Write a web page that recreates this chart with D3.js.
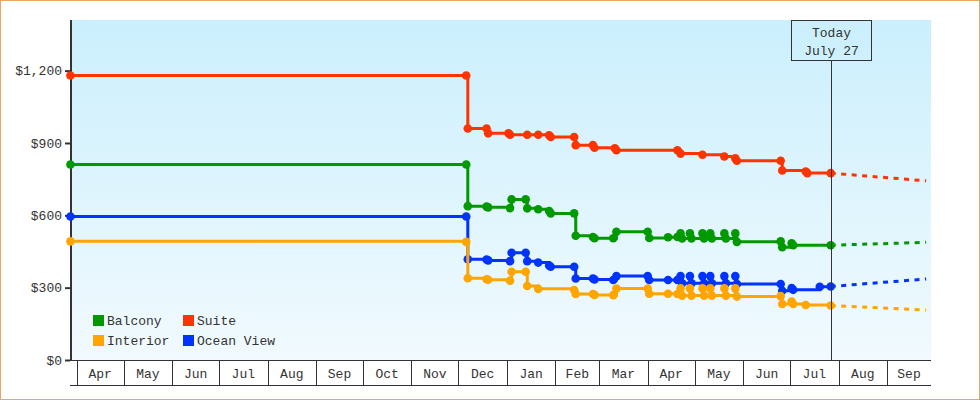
<!DOCTYPE html>
<html><head><meta charset="utf-8">
<script src="https://cdn.jsdelivr.net/npm/d3@7"></script>
<style>
body{margin:0;background:#fff}
svg{display:block}
text{font-family:"Liberation Mono","DejaVu Sans Mono",monospace;font-size:13px;fill:#333}
</style>
</head><body>
<svg id="chart" width="980" height="400"></svg>
<script>
// ---------------- data ----------------
const seriesNames = ["Balcony", "Suite", "Interior", "Ocean View"];
const seriesColors = ["#009900", "#ff3300", "#ffa500", "#0033ff"];

const suiteDates = ["2022-03-28","2022-12-06","2022-12-07","2022-12-19","2022-12-20",
  "2023-01-02","2023-01-03","2023-01-14","2023-01-21","2023-01-28","2023-01-29",
  "2023-02-13","2023-02-14","2023-02-25","2023-02-26","2023-03-11","2023-03-12",
  "2023-04-20","2023-04-22","2023-05-06","2023-05-20","2023-05-27","2023-05-28",
  "2023-06-25","2023-06-26","2023-07-11","2023-07-12","2023-07-27"];
const suiteValues = [1180,1180,960,960,940,
  940,934,934,934,932,925,
  925,891,891,880,878,870,
  870,856,851,844,836,826,
  826,786,782,775,775];

const obsDates = ["2022-03-28","2022-12-06","2022-12-07","2022-12-19","2022-12-20",
  "2023-01-03","2023-01-04","2023-01-13","2023-01-14","2023-01-21",
  "2023-01-28","2023-01-29","2023-02-13","2023-02-14","2023-02-25",
  "2023-02-26","2023-03-10","2023-03-12","2023-04-01","2023-04-02",
  "2023-04-14","2023-04-20","2023-04-22","2023-04-23","2023-04-28",
  "2023-04-29","2023-05-06","2023-05-07","2023-05-11","2023-05-12",
  "2023-05-20","2023-05-21","2023-05-27","2023-05-28","2023-06-25",
  "2023-06-26","2023-07-02","2023-07-03","2023-07-11","2023-07-20",
  "2023-07-27"];
const balconyValues = [811,811,638,636,633, 630,666,666,629,625, 618,608,608,515,510,
  505,505,532,532,506, 509,510,525,504,525, 504,525,504,525,504,
  525,504,525,490,492, 468,484,476,null,null, 476];
const oceanViewValues = [595,595,418,417,413, 410,445,445,410,404, 392,387,387,338,338,
  334,332,348,348,332, 332,332,348,318,348, 318,348,318,348,318,
  348,318,348,315,315, 287,298,291,null,304, 305];
const interiorValues = [492,490,339,335,333, 329,366,366,307,295, null,null,290,274,274,
  270,269,296,296,275, 275,274,297,267,297, 267,297,267,297,267,
  297,267,297,263,265, 232,242,232,228,null, 226];

const todayDate = "2023-07-27";
const forecastEndDate = "2023-09-26";
const forecastEndValues = [488, 743, 207, 336]; // Balcony, Suite, Interior, Ocean View

const monthLabels = ["Apr","May","Jun","Jul","Aug","Sep","Oct","Nov","Dec",
  "Jan","Feb","Mar","Apr","May","Jun","Jul","Aug","Sep"];
const yTickValues = [0, 300, 600, 900, 1200];
const todayLabel = ["Today", "July 27"];

// ---------------- chart ----------------
const parse = d3.utcParse("%Y-%m-%d");
const svg = d3.select("#chart");
const L = 71, R = 931, T = 20, B = 360;

const x = d3.scaleUtc().domain([Date.UTC(2022,3,1), Date.UTC(2023,3,1)]).range([76.7, 647.7]);
const y = d3.scaleLinear().domain([0, 1410]).range([B, T]);

const defs = svg.append("defs");
const grad = defs.append("linearGradient").attr("id","bg").attr("x1",0).attr("y1",0).attr("x2",0).attr("y2",1);
grad.append("stop").attr("offset","0%").attr("stop-color","#cbeffd");
grad.append("stop").attr("offset","100%").attr("stop-color","#f1fafe");
defs.append("clipPath").attr("id","clip").append("rect").attr("x",L-6).attr("y",T).attr("width",R-L+6).attr("height",B-T);

// border
svg.append("rect").attr("x",0.5).attr("y",0.5).attr("width",979).attr("height",399)
  .attr("fill","#fff").attr("stroke","#e8a862").attr("stroke-width",1);

// plot bg
svg.append("rect").attr("x",L).attr("y",T).attr("width",R-L).attr("height",B-T).attr("fill","url(#bg)");

// x month cells
const monthStarts = d3.utcMonth.range(new Date(Date.UTC(2022,3,1)), new Date(Date.UTC(2023,9,1)));
const xg = svg.append("g");
xg.append("line").attr("x1",L).attr("x2",R).attr("y1",B+0.5).attr("y2",B+0.5).attr("stroke","#333");
xg.append("line").attr("x1",70).attr("x2",R).attr("y1",385.5).attr("y2",385.5).attr("stroke","#333");
monthStarts.forEach((m, i) => {
  const x0 = Math.round(x(m)) + 0.5;
  xg.append("line").attr("x1",x0).attr("x2",x0).attr("y1",B).attr("y2",385).attr("stroke","#333");
  const next = d3.utcMonth.offset(m, 1);
  const x1 = Math.min(x(next), R);
  xg.append("text").attr("x",(x(m)+x1)/2).attr("y",377.5).attr("text-anchor","middle").text(monthLabels[i]);
});

// y axis
const yAxis = d3.axisLeft(y).tickValues(yTickValues).tickSize(6).tickPadding(3)
  .tickFormat(d => "$" + d3.format(",")(d));
const yg = svg.append("g").attr("transform",`translate(${L},0)`).call(yAxis);
yg.select(".domain").remove();
yg.selectAll(".tick line").attr("stroke","#333").attr("stroke-width",2).attr("x1",-1);
yg.selectAll(".tick text").attr("font-family",null).attr("font-size",null).style("fill","#333");
svg.append("line").attr("x1",L).attr("x2",L).attr("y1",T).attr("y2",B+1).attr("stroke","#333").attr("stroke-width",2);

// series
function build(dates, values) {
  return dates.map((d,i) => ({date: parse(d), value: values[i]})).filter(d => d.value != null);
}
const seriesData = [
  build(obsDates, balconyValues),
  build(suiteDates, suiteValues),
  build(obsDates, interiorValues),
  build(obsDates, oceanViewValues)
];
const drawOrder = [1, 0, 3, 2];
const line = d3.line().x(d => x(d.date)).y(d => y(d.value)).curve(d3.curveStepAfter);
const plot = svg.append("g").attr("clip-path","url(#clip)");

// today line & box
const tx = Math.round(x(parse(todayDate))) + 0.5;
svg.append("line").attr("x1",tx).attr("x2",tx).attr("y1",61).attr("y2",B).attr("stroke","#333").attr("stroke-width",1);
svg.append("rect").attr("x",tx-40).attr("y",T+0.5).attr("width",80).attr("height",40)
  .attr("fill","none").attr("stroke","#333").attr("stroke-width",1);
svg.append("text").attr("x",tx).attr("y",37).attr("text-anchor","middle").text(todayLabel[0]);
svg.append("text").attr("x",tx).attr("y",54.5).attr("text-anchor","middle").text(todayLabel[1]);

drawOrder.forEach(si => {
  const data = seriesData[si];
  const c = seriesColors[si];
  const last = data[data.length-1];
  plot.append("path").datum([last, {date: parse(forecastEndDate), value: forecastEndValues[si]}])
    .attr("d", d3.line().x(d => x(d.date)).y(d => y(d.value)))
    .attr("fill","none").attr("stroke",c).attr("stroke-width",3).attr("stroke-dasharray","5,5.5");
  plot.append("path").datum(data).attr("d",line).attr("fill","none").attr("stroke",c).attr("stroke-width",3);
  plot.selectAll(null).data(data).enter().append("circle")
    .attr("cx", d => x(d.date)).attr("cy", d => y(d.value)).attr("r",4.3).attr("fill",c);
});

// legend
const legendPos = [[93,315],[183,315],[93,335],[183,335]];
seriesNames.forEach((n,i) => {
  const [lx, ly] = legendPos[i];
  svg.append("rect").attr("x",lx).attr("y",ly).attr("width",11).attr("height",11).attr("fill",seriesColors[i]);
  svg.append("text").attr("x",lx+14).attr("y",ly+10).text(n);
});
</script>
</body></html>
